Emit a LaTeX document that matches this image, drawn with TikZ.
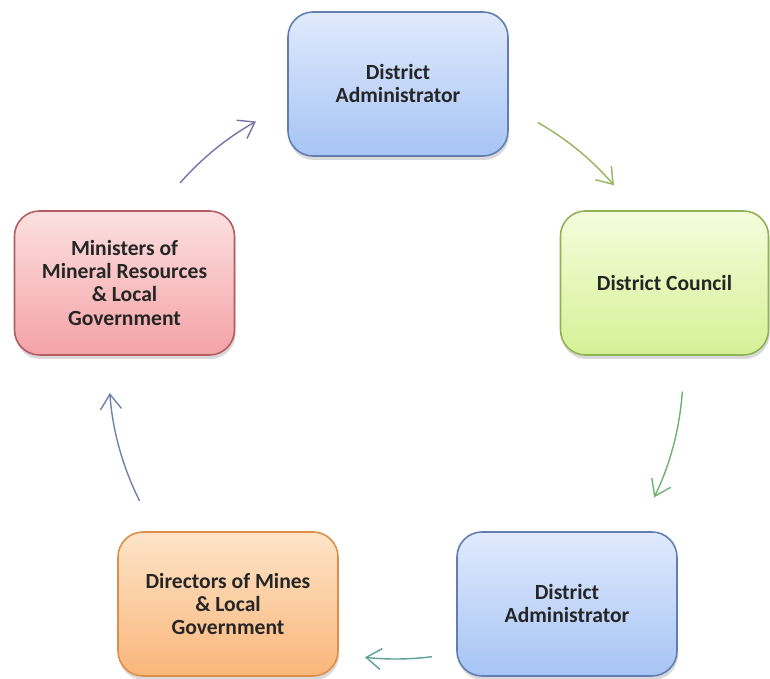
\documentclass[tikz,border=0pt]{standalone}
\usepackage{fontspec}
\setmainfont{Carlito}
\usetikzlibrary{arrows.meta,shadows}

\definecolor{blueTop}{RGB}{224,234,252}
\definecolor{blueBot}{RGB}{166,196,245}
\definecolor{blueLine}{RGB}{98,126,176}
\definecolor{greenTop}{RGB}{246,252,220}
\definecolor{greenBot}{RGB}{212,241,150}
\definecolor{greenLine}{RGB}{142,178,84}
\definecolor{redTop}{RGB}{252,224,224}
\definecolor{redBot}{RGB}{244,162,166}
\definecolor{redLine}{RGB}{180,92,98}
\definecolor{orangeTop}{RGB}{253,228,200}
\definecolor{orangeBot}{RGB}{250,182,122}
\definecolor{orangeLine}{RGB}{222,142,72}

\tikzset{
	stage/.style={rounded corners=0.5cm, minimum width=4.4cm, minimum height=2.88cm,
		align=center, line width=0.9pt, text=black!85,
		font=\fontsize{12.3}{13.1}\selectfont\bfseries,
		drop shadow={opacity=0.3, shadow xshift=0.02cm, shadow yshift=-0.08cm}},
	bluestage/.style={stage, draw=blueLine, top color=blueTop, bottom color=blueBot},
	greenstage/.style={stage, draw=greenLine, top color=greenTop, bottom color=greenBot},
	redstage/.style={stage, draw=redLine, top color=redTop, bottom color=redBot},
	orangestage/.style={stage, draw=orangeLine, top color=orangeTop, bottom color=orangeBot},
	cyclearrow/.style={line width=0.8pt, -{Straight Barb[length=0.3cm,width=0.42cm]}}
}

\begin{document}
\begin{tikzpicture}
	
	\useasboundingbox (0,0) rectangle (15.4,13.58);
	\coordinate (cen) at (7.92,6.14);
	
	% stages of the cycle
	\node[bluestage] (admtop) at (7.96,11.9) {District\\Administrator};
	\node[greenstage, minimum width=4.16cm] (council) at (13.29,7.92) {District Council};
	\node[bluestage] (admbot) at (11.34,1.5) {District\\Administrator};
	\node[orangestage] (directors) at (4.56,1.5) {Directors of Mines\\\& Local\\Government};
	\node[redstage] (ministers) at (2.49,7.92) {Ministers of\\Mineral Resources\\\& Local\\Government};
	
	% arrows on the circle round cen
	\draw[cyclearrow, draw={rgb,255:red,150;green,180;blue,92}] ([shift={(60.4:5.74)}]cen) arc[start angle=60.4, end angle=40.6, radius=5.74];
	\draw[cyclearrow, draw={rgb,255:red,112;green,176;blue,110}] ([shift={(-3.9:5.74)}]cen) arc[start angle=-3.9, end angle=-25.9, radius=5.74];
	\draw[cyclearrow, draw={rgb,255:red,92;green,160;blue,150}] ([shift={(-82.8:5.74)}]cen) arc[start angle=-82.8, end angle=-96.2, radius=5.74];
	\draw[cyclearrow, draw={rgb,255:red,112;green,130;blue,170}] ([shift={(206.7:5.74)}]cen) arc[start angle=206.7, end angle=184.2, radius=5.74];
	\draw[cyclearrow, draw={rgb,255:red,122;green,112;blue,172}] ([shift={(138.8:5.74)}]cen) arc[start angle=138.8, end angle=119.2, radius=5.74];
	
\end{tikzpicture}
\end{document}
